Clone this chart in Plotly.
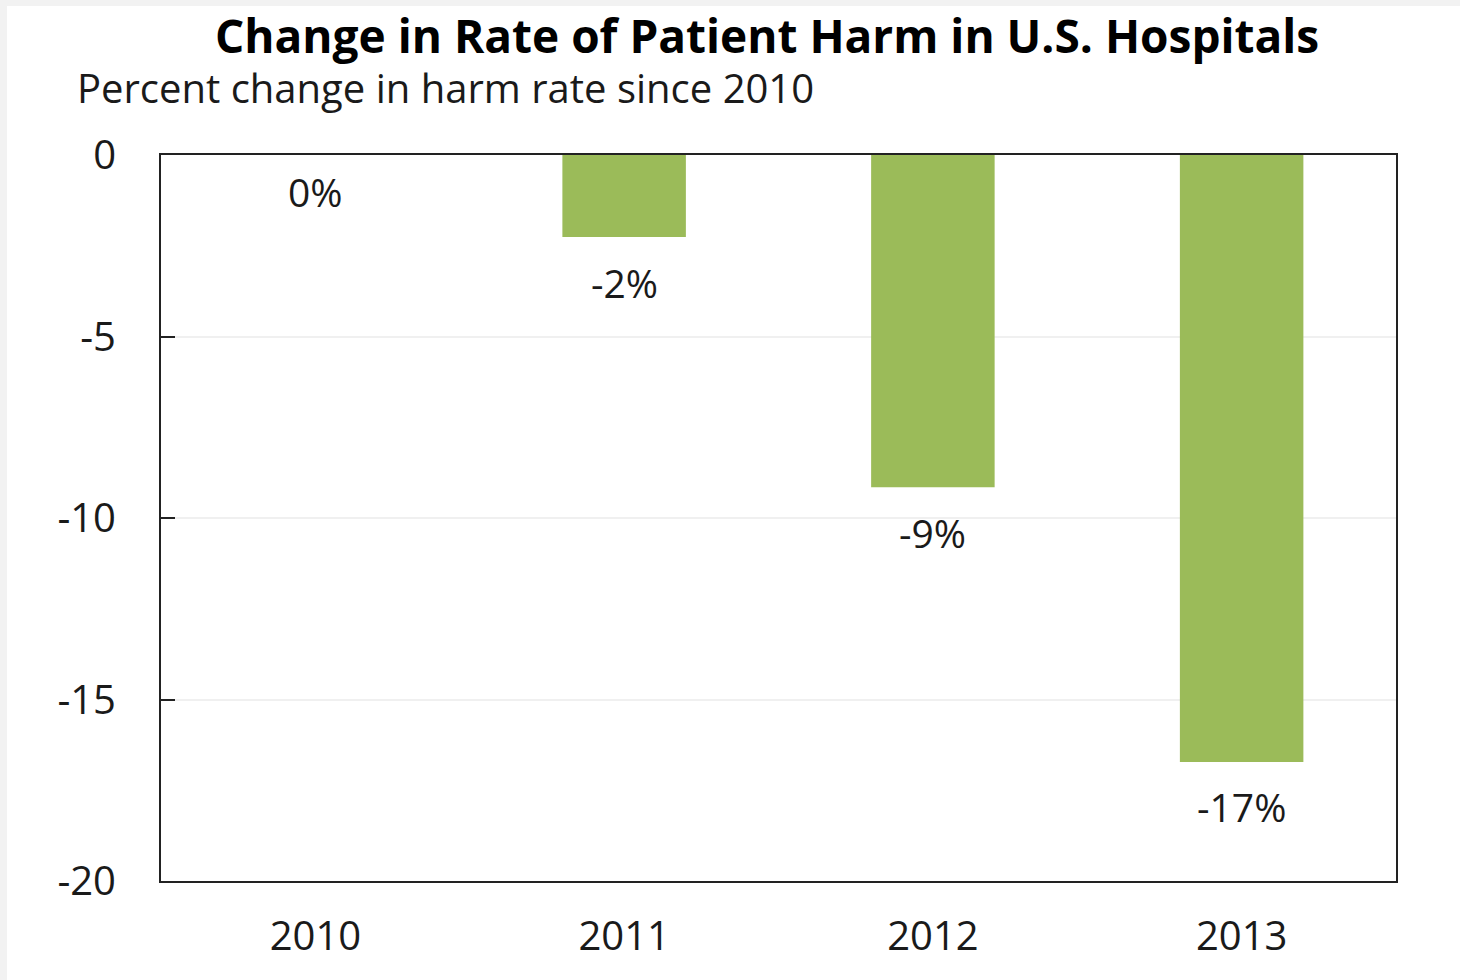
import plotly.graph_objects as go

years = ["2010", "2011", "2012", "2013"]
change = [0.0, -2.26, -9.15, -16.72]
labels = ["0%", "-2%", "-9%", "-17%"]
y_ticks = [0, -5, -10, -15, -20]
y_tick_text = ["0", "-5", "-10", "-15", "-20"]

title_text = "Change in Rate of Patient Harm in U.S. Hospitals"
subtitle_text = "Percent change in harm rate since 2010"

FONT = "Open Sans"
BAR_COLOR = "#9BBB59"

fig = go.Figure()
fig.add_trace(go.Bar(
    x=years, y=change, marker=dict(color=BAR_COLOR, line=dict(width=0)),
    width=0.4, hoverinfo="skip",
))

# on a category axis, annotation x positions are category indices
for i, (v, t) in enumerate(zip(change, labels)):
    fig.add_annotation(
        x=i, y=v, xref="x", yref="y", text=t, showarrow=False,
        yanchor="middle", yshift=(-36 if v == 0 else -45),
        font=dict(family=FONT, size=39, color="#1a1a1a"),
    )

fig.add_annotation(
    x=(767 - 161) / 1235, y=(881 - 35) / 726, xref="paper", yref="paper",
    text="<b>" + title_text + "</b>", showarrow=False,
    xanchor="center", yanchor="middle",
    font=dict(family=FONT, size=46, color="#000000"),
)
fig.add_annotation(
    x=(75 - 161) / 1235, y=(881 - 88) / 726, xref="paper", yref="paper",
    text=subtitle_text, showarrow=False,
    xanchor="left", yanchor="middle",
    font=dict(family=FONT, size=40, color="#1a1a1a"),
)

# white canvas inside a light gray frame
fig.add_shape(
    type="rect", xref="paper", yref="paper", layer="below",
    x0=(7 - 161) / 1235, x1=(1462 - 161) / 1235,
    y0=(881 - 985) / 726, y1=(881 - 6) / 726,
    fillcolor="white", line=dict(width=0),
)

fig.update_layout(
    width=1460, height=980,
    margin=dict(l=161, r=64, t=155, b=99),
    paper_bgcolor="#f2f2f2", plot_bgcolor="white",
    showlegend=False, bargap=0.6,
    font=dict(family=FONT, size=40, color="#1a1a1a"),
)
fig.update_xaxes(
    type="category", range=[-0.5, len(years) - 0.5],
    showline=True, linecolor="#222222", linewidth=2, mirror=True,
    ticks="", showgrid=False, tickfont=dict(size=40), ticklabelstandoff=19,
)
fig.update_yaxes(
    range=[-20, 0], tickvals=y_ticks, ticktext=y_tick_text,
    showline=True, linecolor="#222222", linewidth=2, mirror=True,
    ticks="inside", ticklen=14, tickwidth=2, tickcolor="#222222",
    showgrid=True, gridcolor="#f0f0f0", gridwidth=2, zeroline=False,
    tickfont=dict(size=40), ticklabelstandoff=35,
)

fig.write_html(
    "out.html",
    config={"displayModeBar": False},
    post_script="document.body.style.margin='0';document.body.style.overflow='hidden';",
)
